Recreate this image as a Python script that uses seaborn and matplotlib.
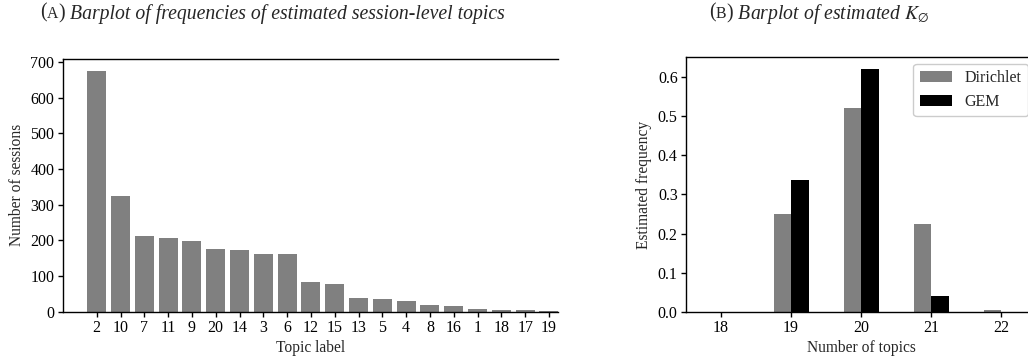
import matplotlib
matplotlib.use("Agg")
import matplotlib.pyplot as plt
import matplotlib.text as mtext
import seaborn as sns
import pandas as pd

# ---- data ----
topic_labels = ["2", "10", "7", "11", "9", "20", "14", "3", "6", "12",
                "15", "13", "5", "4", "8", "16", "1", "18", "17", "19"]
session_counts = [675, 325, 213, 206, 199, 176, 173, 162, 162, 83,
                  78, 38, 35, 29, 18, 15, 7, 4, 4, 1]

num_topics = ["18", "19", "20", "21", "22"]
freq_dirichlet = [0.0, 0.25, 0.521, 0.225, 0.004]
freq_gem = [0.0, 0.338, 0.62, 0.04, 0.0]
series_names = ["Dirichlet", "GEM"]

sns.set_style("ticks")
plt.rcParams["font.family"] = ["Liberation Serif", "DejaVu Serif"]
plt.rcParams["mathtext.fontset"] = "stix"
plt.rcParams["axes.linewidth"] = 1.0
plt.rcParams["axes.edgecolor"] = "black"
plt.rcParams["xtick.color"] = "black"
plt.rcParams["ytick.color"] = "black"

TICK_FS = 11.5
LABEL_FS = 11.2
LEG_FS = 11.5
TITLE_FS = 14.2

fig = plt.figure(figsize=(10.28, 3.61), dpi=100)
W, H = 1028.0, 361.0

def pos(l, r, t, b):
    return [l / W, 1 - b / H, (r - l) / W, (b - t) / H]

# ---- left panel ----
ax1 = fig.add_axes(pos(62.7, 558.0, 59.0, 311.7))
df1 = pd.DataFrame({"topic": topic_labels, "count": session_counts})
sns.barplot(data=df1, x="topic", y="count", order=topic_labels,
            color="gray", saturation=1, width=0.8, linewidth=0, ax=ax1)
ax1.set_xlim(-1.43, 19.38)
ax1.set_ylim(0, 709)
ax1.set_yticks(range(0, 701, 100))
ax1.set_xlabel("Topic label", fontsize=LABEL_FS, labelpad=3)
ax1.set_ylabel("Number of sessions", fontsize=LABEL_FS, labelpad=4)
ax1.tick_params(labelsize=TICK_FS, length=3.5, width=1, pad=2.5)
ax1.spines["right"].set_visible(False)

# ---- right panel ----
ax2 = fig.add_axes(pos(686.0, 1036.0, 57.3, 311.7))
df2 = pd.DataFrame({
    "K": num_topics * 2,
    "freq": freq_dirichlet + freq_gem,
    "prior": [series_names[0]] * len(num_topics) + [series_names[1]] * len(num_topics),
})
sns.barplot(data=df2, x="K", y="freq", hue="prior", order=num_topics,
            hue_order=series_names, palette={"Dirichlet": "gray", "GEM": "black"},
            saturation=1, width=0.5, linewidth=0, ax=ax2)
ax2.set_xlim(-0.5, 4.5)
ax2.set_ylim(0, 0.651)
ax2.set_yticks([0.0, 0.1, 0.2, 0.3, 0.4, 0.5, 0.6])
ax2.set_yticklabels(["0.0", "0.1", "0.2", "0.3", "0.4", "0.5", "0.6"])
ax2.set_xlabel("Number of topics", fontsize=LABEL_FS, labelpad=3)
ax2.set_ylabel("Estimated frequency", fontsize=LABEL_FS, labelpad=4)
ax2.tick_params(labelsize=TICK_FS, length=3.5, width=1, pad=2.5)
ax2.spines["right"].set_visible(False)
leg = ax2.legend(title=None, loc="upper right", fontsize=LEG_FS,
                 frameon=True, fancybox=True, borderaxespad=0.4,
                 bbox_to_anchor=(0.995, 1.0), handleheight=0.6)
leg.get_frame().set_edgecolor("#cccccc")
leg.get_frame().set_alpha(1)

# ---- titles (small-caps panel letter + italic text) ----
def chain(x, y, parts):
    first = fig.text(x, y, parts[0][0], fontsize=parts[0][1], style=parts[0][2],
                     ha="left", va="baseline")
    prev, prev_fs = first, parts[0][1]
    for s, fs, st in parts[1:]:
        prev = fig.add_artist(mtext.Annotation(
            s, xy=(1, 0), xycoords=prev, xytext=(0, 0.216 * prev_fs),
            textcoords="offset points", fontsize=fs, style=st,
            ha="left", va="baseline"))
        prev_fs = fs
    return first

chain(40 / W, 1 - 17 / H, [("(", TITLE_FS, "normal"), ("A", TITLE_FS * 0.8, "normal"),
                            (")", TITLE_FS, "normal"),
                            (" Barplot of frequencies of estimated session-level topics", TITLE_FS, "italic")])
chain(709 / W, 1 - 17 / H, [("(", TITLE_FS, "normal"), ("B", TITLE_FS * 0.8, "normal"),
                             (")", TITLE_FS, "normal"),
                             (" Barplot of estimated $K_{\\varnothing}$", TITLE_FS, "italic")])

fig.savefig("out.png", dpi=100)
